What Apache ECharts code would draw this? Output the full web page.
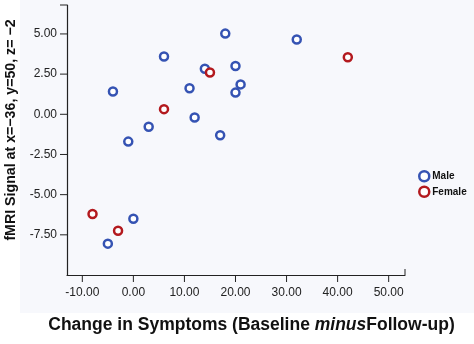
<!DOCTYPE html>
<html>
<head>
<meta charset="utf-8">
<script src="https://cdn.jsdelivr.net/npm/echarts@6/dist/echarts.min.js"></script>
<style>
  html, body { margin: 0; padding: 0; background: #fff; }
  #chart { width: 474px; height: 344px; }
</style>
</head>
<body>
<div id="chart"></div>
<script>
// values
const maleX = [-4, -1, 3, 6, 11, 12, 14, 17, 18, 20, 20, 21, 32, 0, -5]
const maleY = [1.42, -1.7, -0.78, 3.6, 1.62, -0.2, 2.83, -1.3, 5.02, 3.0, 1.35, 1.86, 4.65, -6.5, -8.05]
const femaleX = [6, 15, 42, -8, -3]
const femaleY = [0.32, 2.6, 3.55, -6.2, -7.25]
const xLabels = [-10, 0, 10, 20, 30, 40, 50]
const yLabels = [-7.5, -5, -2.5, 0, 2.5, 5]
const xMin = -13
const xMax = 53.2
const yMin = -10
const yMax = 6.8

const chart = echarts.init(document.getElementById('chart'))

const font = '"Liberation Sans", Arial, sans-serif'
const blue = '#3553b3'
const red = '#b3191e'
const ink = '#222'

const pairs = (xs, ys) => xs.map((x, i) => [x, ys[i]])
// only print the labelled values, leave the end values blank
const fmt = (list) => (v) => (list.some((t) => Math.abs(t - v) < 1e-6) ? v.toFixed(2) : '')

// tick marks drawn as thin rect symbols on the axis lines
const tickSeries = (data, size, offset) => ({
  type: 'scatter',
  symbol: 'rect',
  symbolSize: size,
  symbolOffset: offset,
  clip: false,
  silent: true,
  z: 3,
  itemStyle: { color: ink, opacity: 1 },
  data: data,
})

const option = {
  animation: false,
  textStyle: { fontFamily: font },
  graphic: {
    z: -100,
    elements: [{
      type: 'rect',
      z: -100,
      shape: { x: 20, y: 0, width: 454, height: 313 },
      style: { fill: '#f7f8fc' },
    }],
  },
  grid: { left: 67, top: 5, right: 69, bottom: 69, outerBoundsMode: 'none' },
  legend: {
    orient: 'vertical',
    left: 413,
    top: 165,
    itemWidth: 10,
    itemHeight: 10,
    itemGap: 3,
    itemStyle: { color: '#fff', borderWidth: 2.5 },
    textStyle: { fontSize: 10, fontWeight: 'bold', color: '#111', padding: [0, 0, 0, -2] },
    data: ['Male', 'Female'],
  },
  xAxis: {
    type: 'value',
    min: xMin,
    max: xMax,
    splitLine: { show: false },
    axisLine: { show: true, onZero: false, lineStyle: { color: ink, width: 1.2 } },
    axisTick: { show: false },
    axisLabel: {
      margin: 12,
      fontSize: 12,
      color: ink,
      formatter: fmt(xLabels),
    },
    name: '{b|Change in Symptoms (Baseline }{i|minus}{b|Follow-up)}',
    nameLocation: 'middle',
    nameGap: 41,
    nameTextStyle: {
      padding: [0, 0, 0, 31],
      rich: {
        b: { fontSize: 17.5, fontWeight: 'bold', color: '#111', fontFamily: font },
        i: { fontSize: 17.5, fontWeight: 'bold', fontStyle: 'italic', color: '#111', fontFamily: font },
      },
    },
  },
  yAxis: {
    type: 'value',
    min: yMin,
    max: yMax,
    interval: 2.5,
    splitLine: { show: false },
    axisLine: { show: true, onZero: false, lineStyle: { color: ink, width: 1.2 } },
    axisTick: { show: false },
    axisLabel: {
      margin: 10,
      fontSize: 12,
      color: ink,
      formatter: fmt(yLabels),
    },
    name: 'fMRI Signal at x=\u221236, y=50, z= \u22122',
    nameLocation: 'middle',
    nameGap: 49,
    nameTextStyle: {
      fontSize: 14.2,
      fontWeight: 'bold',
      color: '#111',
      padding: [0, 0, 0, 20],
    },
  },
  series: [
    tickSeries(xLabels.map((v) => [v, yMin]), [1, 7], [0, 3.5]),
    tickSeries([[xMax, yMin]], [1, 6], [0, -3]),
    tickSeries(yLabels.concat([yMax]).map((v) => [xMin, v]), [7, 1], [-3.5, 0]),
    {
      name: 'Male',
      type: 'scatter',
      symbol: 'circle',
      symbolSize: 8,
      itemStyle: { color: '#fff', borderColor: blue, borderWidth: 2.5, opacity: 1 },
      data: pairs(maleX, maleY),
    },
    {
      name: 'Female',
      type: 'scatter',
      symbol: 'circle',
      symbolSize: 8,
      itemStyle: { color: '#fff', borderColor: red, borderWidth: 2.5, opacity: 1 },
      data: pairs(femaleX, femaleY),
    },
  ],
}

chart.setOption(option)
</script>
</body>
</html>
